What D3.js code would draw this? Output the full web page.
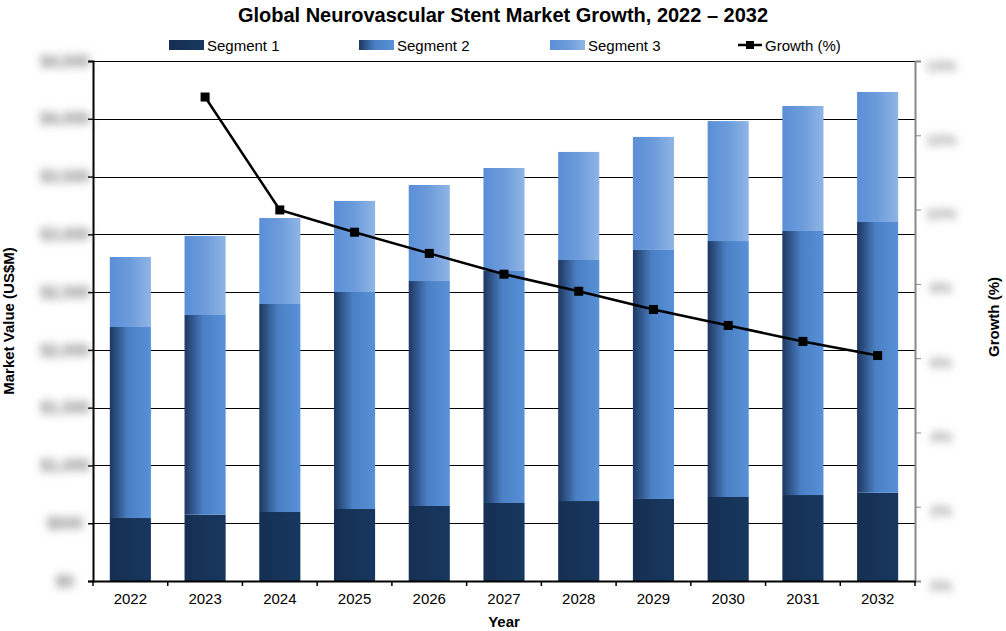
<!DOCTYPE html>
<html><head><meta charset="utf-8">
<script src="https://cdn.jsdelivr.net/npm/d3@7"></script>
<style>body{margin:0;background:#fff}svg{display:block}</style>
</head><body>
<svg id="chart" width="1006" height="631"></svg>
<script>
const years = ["2022","2023","2024","2025","2026","2027","2028","2029","2030","2031","2032"];
const segment1 = [545,574,597,623,649,675,692,710,727,744,764];
const segment2 = [1653,1728,1800,1878,1947,2008,2086,2155,2215,2285,2343];
const segment3 = [606,684,744,788,831,891,935,978,1038,1082,1125];
const growth = [null,13.03,9.99,9.39,8.82,8.26,7.80,7.31,6.88,6.45,6.07];
const leftTicks = [0,500,1000,1500,2000,2500,3000,3500,4000,4500];
const rightTicks = [0,2,4,6,8,10,12,14];
const seriesNames = ["Segment 1","Segment 2","Segment 3","Growth (%)"];

const svg = d3.select("#chart");
const m = {l:93, r:915, t:61, b:581};
const x = d3.scaleBand().domain(years).range([m.l,m.r]).paddingInner(0.45).paddingOuter(0.225);
const y = d3.scaleLinear().domain([0,4500]).range([m.b,m.t]);
const y2 = d3.scaleLinear().domain([0,14]).range([m.b,m.t]);

const defs = svg.append("defs");
function grad(id, stops){
  const g = defs.append("linearGradient").attr("id",id).attr("x1","0%").attr("x2","100%").attr("y1","0%").attr("y2","0%");
  stops.forEach(s=>g.append("stop").attr("offset",s[0]).attr("stop-color",s[1]));
}
grad("g1",[["0%","#152f52"],["100%","#18375f"]]);
grad("g2",[["0%","#1d3760"],["45%","#4a7fc4"],["100%","#5891d8"]]);
grad("g3",[["0%","#5a8ed6"],["50%","#6d9cdc"],["100%","#8fb5e4"]]);
const blur = defs.append("filter").attr("id","blur").attr("x","-60%").attr("y","-150%").attr("width","220%").attr("height","400%");
blur.append("feGaussianBlur").attr("stdDeviation",4.2);

// gridlines
svg.append("g").selectAll("line").data(leftTicks.slice(1)).join("line")
  .attr("x1",m.l).attr("x2",m.r).attr("y1",d=>Math.round(y(d))+0.5).attr("y2",d=>Math.round(y(d))+0.5)
  .attr("stroke","#000").attr("stroke-width",1);

// stacked bars
const rows = years.map((yr,i)=>({year:yr, s1:segment1[i], s2:segment2[i], s3:segment3[i]}));
const stack = d3.stack().keys(["s1","s2","s3"])(rows);
const fills = ["url(#g1)","url(#g2)","url(#g3)"];
svg.append("g").selectAll("g").data(stack).join("g").attr("fill",(d,i)=>fills[i])
  .selectAll("rect").data(d=>d).join("rect")
  .attr("x",d=>x(d.data.year)).attr("width",x.bandwidth())
  .attr("y",d=>y(d[1])).attr("height",d=>y(d[0])-y(d[1]));

// left axis
const la = svg.append("g").attr("transform",`translate(${m.l},0)`)
  .call(d3.axisLeft(y).tickValues(leftTicks).tickSize(5).tickFormat(d=>"$"+d3.format(",")(d)));
la.select(".domain").attr("stroke","#000").attr("stroke-width",2);
la.selectAll(".tick line").attr("stroke","#000").attr("stroke-width",1.5);
la.selectAll(".tick text").attr("x",-28).attr("text-anchor","middle").attr("font-family","Liberation Sans, Arial, sans-serif")
  .attr("font-size",16).attr("font-weight","bold").attr("fill","#7a7a7a").attr("filter","url(#blur)");

// right axis
const ra = svg.append("g").attr("transform",`translate(${m.r},0)`)
  .call(d3.axisRight(y2).tickValues(rightTicks).tickSize(6).tickFormat(d=>d+"%"));
ra.select(".domain").attr("stroke","#888").attr("stroke-width",2);
ra.selectAll(".tick line").attr("stroke","#888").attr("stroke-width",1);
ra.selectAll(".tick text").attr("x",26).attr("dy","0.6em").attr("text-anchor","middle").attr("font-family","Liberation Sans, Arial, sans-serif")
  .attr("font-size",15).attr("font-weight","bold").attr("fill","#8e8e8e").attr("filter","url(#blur)");

// bottom axis
const ba = svg.append("g").attr("transform",`translate(0,${m.b})`)
  .call(d3.axisBottom(x).tickSize(0).tickPadding(12));
ba.select(".domain").attr("stroke","#000").attr("stroke-width",2);
ba.selectAll(".tick text").attr("font-family","Liberation Sans, Arial, sans-serif").attr("font-size",15).attr("fill","#000");
const bounds = years.map(d=>x(d)-x.step()*x.paddingInner()/2).concat([m.r]);
ba.append("g").selectAll("line").data(bounds).join("line")
  .attr("x1",d=>d).attr("x2",d=>d).attr("y1",0).attr("y2",5).attr("stroke","#000").attr("stroke-width",1.5);

// growth line
const pts = years.map((yr,i)=>({year:yr,v:growth[i]})).filter(d=>d.v!==null);
const cx = d=>x(d.year)+x.bandwidth()/2;
svg.append("path").datum(pts)
  .attr("d",d3.line().x(cx).y(d=>y2(d.v)))
  .attr("fill","none").attr("stroke","#000").attr("stroke-width",2.5);
svg.append("g").selectAll("rect").data(pts).join("rect")
  .attr("x",d=>cx(d)-4.5).attr("y",d=>y2(d.v)-4.5).attr("width",9).attr("height",9).attr("fill","#000");

// title
svg.append("text").attr("x",503).attr("y",22).attr("text-anchor","middle")
  .attr("font-family","Liberation Sans Narrow, Arial Narrow, Liberation Sans, sans-serif").attr("font-weight","bold")
  .attr("font-size",20).attr("fill","#000").text("Global Neurovascular Stent Market Growth, 2022 – 2032");

// legend
const lg = svg.append("g").attr("font-family","Liberation Sans, Arial, sans-serif").attr("font-size",15);
const legX = [169,359,550];
[0,1,2].forEach(i=>{
  lg.append("rect").attr("x",legX[i]).attr("y",40).attr("width",35).attr("height",10).attr("fill",fills[i]);
  lg.append("text").attr("x",legX[i]+38).attr("y",51).text(seriesNames[i]);
});
lg.append("line").attr("x1",738).attr("x2",762).attr("y1",45).attr("y2",45).attr("stroke","#000").attr("stroke-width",2.5);
lg.append("rect").attr("x",746).attr("y",41).attr("width",8).attr("height",8).attr("fill","#000");
lg.append("text").attr("x",765).attr("y",51).text(seriesNames[3]);

// axis titles
const af = "Liberation Sans, Arial, sans-serif";
svg.append("text").attr("transform","translate(14,321) rotate(-90)").attr("text-anchor","middle")
  .attr("font-family",af).attr("font-weight","bold").attr("font-size",15).text("Market Value (US$M)");
svg.append("text").attr("transform","translate(999,317) rotate(-90)").attr("text-anchor","middle")
  .attr("font-family",af).attr("font-weight","bold").attr("font-size",15).text("Growth (%)");
svg.append("text").attr("x",504).attr("y",627).attr("text-anchor","middle")
  .attr("font-family",af).attr("font-weight","bold").attr("font-size",15).text("Year");
</script>
</body></html>
